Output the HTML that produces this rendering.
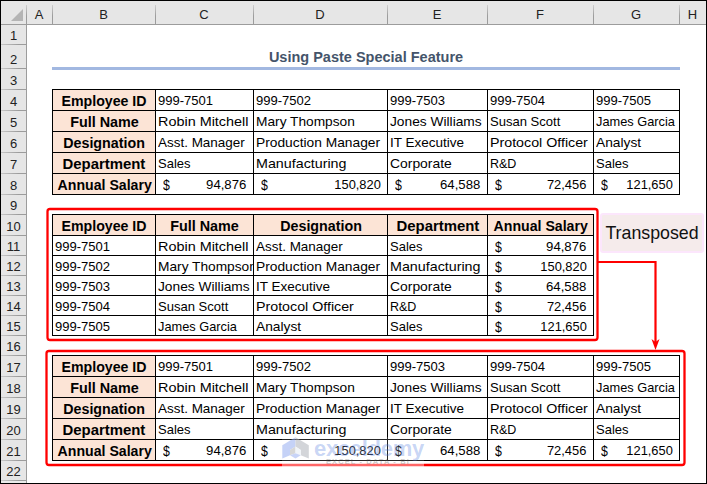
<!DOCTYPE html>
<html><head><meta charset="utf-8"><style>
html,body{margin:0;padding:0;background:#fff;}
body{width:707px;height:484px;position:relative;overflow:hidden;}
body>div,body>svg{position:absolute;}
</style></head><body>
<div style="left:1px;top:1px;width:705px;height:23px;background:#e6e6e6"></div>
<div style="left:1px;top:1px;width:25px;height:482px;background:#e6e6e6"></div>
<div style="left:1px;top:481px;width:25px;height:2px;background:#ebebeb"></div>
<div style="left:1px;top:24px;width:705px;height:1px;background:#9c9c9c"></div>
<div style="left:26px;top:5px;width:1px;height:20px;background:linear-gradient(#cdcdcd,#9c9c9c 55%)"></div>
<div style="left:26px;top:24px;width:1px;height:459px;background:#9c9c9c"></div>
<div style="left:52px;top:5px;width:1px;height:20px;background:linear-gradient(#cdcdcd,#9c9c9c 55%)"></div>
<div style="left:155px;top:5px;width:1px;height:20px;background:linear-gradient(#cdcdcd,#9c9c9c 55%)"></div>
<div style="left:253px;top:5px;width:1px;height:20px;background:linear-gradient(#cdcdcd,#9c9c9c 55%)"></div>
<div style="left:387px;top:5px;width:1px;height:20px;background:linear-gradient(#cdcdcd,#9c9c9c 55%)"></div>
<div style="left:487px;top:5px;width:1px;height:20px;background:linear-gradient(#cdcdcd,#9c9c9c 55%)"></div>
<div style="left:593px;top:5px;width:1px;height:20px;background:linear-gradient(#cdcdcd,#9c9c9c 55%)"></div>
<div style="left:679px;top:5px;width:1px;height:20px;background:linear-gradient(#cdcdcd,#9c9c9c 55%)"></div>
<div style="left:1px;top:44px;width:25px;height:1px;background:linear-gradient(to right,#c8c8c8,#9c9c9c 70%)"></div>
<div style="left:1px;top:68px;width:25px;height:1px;background:linear-gradient(to right,#c8c8c8,#9c9c9c 70%)"></div>
<div style="left:1px;top:89px;width:25px;height:1px;background:linear-gradient(to right,#c8c8c8,#9c9c9c 70%)"></div>
<div style="left:1px;top:110px;width:25px;height:1px;background:linear-gradient(to right,#c8c8c8,#9c9c9c 70%)"></div>
<div style="left:1px;top:131px;width:25px;height:1px;background:linear-gradient(to right,#c8c8c8,#9c9c9c 70%)"></div>
<div style="left:1px;top:152px;width:25px;height:1px;background:linear-gradient(to right,#c8c8c8,#9c9c9c 70%)"></div>
<div style="left:1px;top:173px;width:25px;height:1px;background:linear-gradient(to right,#c8c8c8,#9c9c9c 70%)"></div>
<div style="left:1px;top:194px;width:25px;height:1px;background:linear-gradient(to right,#c8c8c8,#9c9c9c 70%)"></div>
<div style="left:1px;top:214px;width:25px;height:1px;background:linear-gradient(to right,#c8c8c8,#9c9c9c 70%)"></div>
<div style="left:1px;top:235px;width:25px;height:1px;background:linear-gradient(to right,#c8c8c8,#9c9c9c 70%)"></div>
<div style="left:1px;top:255px;width:25px;height:1px;background:linear-gradient(to right,#c8c8c8,#9c9c9c 70%)"></div>
<div style="left:1px;top:275px;width:25px;height:1px;background:linear-gradient(to right,#c8c8c8,#9c9c9c 70%)"></div>
<div style="left:1px;top:295px;width:25px;height:1px;background:linear-gradient(to right,#c8c8c8,#9c9c9c 70%)"></div>
<div style="left:1px;top:315px;width:25px;height:1px;background:linear-gradient(to right,#c8c8c8,#9c9c9c 70%)"></div>
<div style="left:1px;top:335px;width:25px;height:1px;background:linear-gradient(to right,#c8c8c8,#9c9c9c 70%)"></div>
<div style="left:1px;top:355px;width:25px;height:1px;background:linear-gradient(to right,#c8c8c8,#9c9c9c 70%)"></div>
<div style="left:1px;top:376px;width:25px;height:1px;background:linear-gradient(to right,#c8c8c8,#9c9c9c 70%)"></div>
<div style="left:1px;top:397px;width:25px;height:1px;background:linear-gradient(to right,#c8c8c8,#9c9c9c 70%)"></div>
<div style="left:1px;top:418px;width:25px;height:1px;background:linear-gradient(to right,#c8c8c8,#9c9c9c 70%)"></div>
<div style="left:1px;top:439px;width:25px;height:1px;background:linear-gradient(to right,#c8c8c8,#9c9c9c 70%)"></div>
<div style="left:1px;top:460px;width:25px;height:1px;background:linear-gradient(to right,#c8c8c8,#9c9c9c 70%)"></div>
<div style="left:1px;top:480px;width:25px;height:1px;background:linear-gradient(to right,#c8c8c8,#9c9c9c 70%)"></div>
<svg style="left:11px;top:9px" width="13" height="13"><polygon points="12,0 12,12 0,12" fill="#b4b4b4"/></svg>
<div style="left:26px;top:7px;width:26px;text-align:center;font:13px 'Liberation Sans', sans-serif;color:#222;line-height:15px">A</div>
<div style="left:52px;top:7px;width:103px;text-align:center;font:13px 'Liberation Sans', sans-serif;color:#222;line-height:15px">B</div>
<div style="left:155px;top:7px;width:98px;text-align:center;font:13px 'Liberation Sans', sans-serif;color:#222;line-height:15px">C</div>
<div style="left:253px;top:7px;width:134px;text-align:center;font:13px 'Liberation Sans', sans-serif;color:#222;line-height:15px">D</div>
<div style="left:387px;top:7px;width:100px;text-align:center;font:13px 'Liberation Sans', sans-serif;color:#222;line-height:15px">E</div>
<div style="left:487px;top:7px;width:106px;text-align:center;font:13px 'Liberation Sans', sans-serif;color:#222;line-height:15px">F</div>
<div style="left:593px;top:7px;width:86px;text-align:center;font:13px 'Liberation Sans', sans-serif;color:#222;line-height:15px">G</div>
<div style="left:679px;top:7px;width:27px;text-align:center;font:13px 'Liberation Sans', sans-serif;color:#222;line-height:15px">H</div>
<div style="left:1px;top:28px;width:25px;text-align:center;font:13px 'Liberation Sans', sans-serif;color:#222;line-height:15px">1</div>
<div style="left:1px;top:52px;width:25px;text-align:center;font:13px 'Liberation Sans', sans-serif;color:#222;line-height:15px">2</div>
<div style="left:1px;top:73px;width:25px;text-align:center;font:13px 'Liberation Sans', sans-serif;color:#222;line-height:15px">3</div>
<div style="left:1px;top:94px;width:25px;text-align:center;font:13px 'Liberation Sans', sans-serif;color:#222;line-height:15px">4</div>
<div style="left:1px;top:115px;width:25px;text-align:center;font:13px 'Liberation Sans', sans-serif;color:#222;line-height:15px">5</div>
<div style="left:1px;top:136px;width:25px;text-align:center;font:13px 'Liberation Sans', sans-serif;color:#222;line-height:15px">6</div>
<div style="left:1px;top:157px;width:25px;text-align:center;font:13px 'Liberation Sans', sans-serif;color:#222;line-height:15px">7</div>
<div style="left:1px;top:178px;width:25px;text-align:center;font:13px 'Liberation Sans', sans-serif;color:#222;line-height:15px">8</div>
<div style="left:1px;top:198px;width:25px;text-align:center;font:13px 'Liberation Sans', sans-serif;color:#222;line-height:15px">9</div>
<div style="left:1px;top:219px;width:25px;text-align:center;font:13px 'Liberation Sans', sans-serif;color:#222;line-height:15px">10</div>
<div style="left:1px;top:239px;width:25px;text-align:center;font:13px 'Liberation Sans', sans-serif;color:#222;line-height:15px">11</div>
<div style="left:1px;top:259px;width:25px;text-align:center;font:13px 'Liberation Sans', sans-serif;color:#222;line-height:15px">12</div>
<div style="left:1px;top:279px;width:25px;text-align:center;font:13px 'Liberation Sans', sans-serif;color:#222;line-height:15px">13</div>
<div style="left:1px;top:299px;width:25px;text-align:center;font:13px 'Liberation Sans', sans-serif;color:#222;line-height:15px">14</div>
<div style="left:1px;top:319px;width:25px;text-align:center;font:13px 'Liberation Sans', sans-serif;color:#222;line-height:15px">15</div>
<div style="left:1px;top:339px;width:25px;text-align:center;font:13px 'Liberation Sans', sans-serif;color:#222;line-height:15px">16</div>
<div style="left:1px;top:360px;width:25px;text-align:center;font:13px 'Liberation Sans', sans-serif;color:#222;line-height:15px">17</div>
<div style="left:1px;top:381px;width:25px;text-align:center;font:13px 'Liberation Sans', sans-serif;color:#222;line-height:15px">18</div>
<div style="left:1px;top:402px;width:25px;text-align:center;font:13px 'Liberation Sans', sans-serif;color:#222;line-height:15px">19</div>
<div style="left:1px;top:423px;width:25px;text-align:center;font:13px 'Liberation Sans', sans-serif;color:#222;line-height:15px">20</div>
<div style="left:1px;top:444px;width:25px;text-align:center;font:13px 'Liberation Sans', sans-serif;color:#222;line-height:15px">21</div>
<div style="left:1px;top:464px;width:25px;text-align:center;font:13px 'Liberation Sans', sans-serif;color:#222;line-height:15px">22</div>
<div style="left:0;top:0;width:707px;height:1px;background:#000"></div>
<div style="left:0;top:483px;width:707px;height:1px;background:#000"></div>
<div style="left:0;top:0;width:1px;height:484px;background:#000"></div>
<div style="left:706px;top:0;width:1px;height:484px;background:#000"></div>
<div style="left:52px;top:50px;width:628px;text-align:center;font:bold 14.5px 'Liberation Sans', sans-serif;color:#44546a;line-height:15px">Using Paste Special Feature</div>
<div style="left:52px;top:67px;width:628px;height:3px;background:#a2b8e1"></div>
<div style="left:52px;top:89px;width:103px;height:21px;background:#fce4d6"></div>
<div style="left:52.5px;top:93px;width:103.5px;text-align:center;overflow:hidden;white-space:nowrap;font:bold 14px 'Liberation Sans', sans-serif;line-height:16px;color:#000"><span style="display:inline-block;transform:scaleX(1.0120);transform-origin:50% 0">Employee ID</span></div>
<div style="left:52px;top:110px;width:103px;height:21px;background:#fce4d6"></div>
<div style="left:52.5px;top:114px;width:103.5px;text-align:center;overflow:hidden;white-space:nowrap;font:bold 14px 'Liberation Sans', sans-serif;line-height:16px;color:#000"><span style="display:inline-block;transform:scaleX(1.0250);transform-origin:50% 0">Full Name</span></div>
<div style="left:52px;top:131px;width:103px;height:21px;background:#fce4d6"></div>
<div style="left:52.5px;top:135px;width:103.5px;text-align:center;overflow:hidden;white-space:nowrap;font:bold 14px 'Liberation Sans', sans-serif;line-height:16px;color:#000"><span style="display:inline-block;transform:scaleX(1.0190);transform-origin:50% 0">Designation</span></div>
<div style="left:52px;top:152px;width:103px;height:21px;background:#fce4d6"></div>
<div style="left:52.5px;top:156px;width:103.5px;text-align:center;overflow:hidden;white-space:nowrap;font:bold 14px 'Liberation Sans', sans-serif;line-height:16px;color:#000"><span style="display:inline-block;transform:scaleX(1.0650);transform-origin:50% 0">Department</span></div>
<div style="left:52px;top:173px;width:103px;height:21px;background:#fce4d6"></div>
<div style="left:52.5px;top:177px;width:103.5px;text-align:center;overflow:hidden;white-space:nowrap;font:bold 14px 'Liberation Sans', sans-serif;line-height:16px;color:#000"><span style="display:inline-block;transform:scaleX(1.0100);transform-origin:50% 0">Annual Salary</span></div>
<div style="left:156px;top:93px;width:97px;overflow:hidden;white-space:nowrap;font:13.5px 'Liberation Sans', sans-serif;line-height:16px;color:#000"><span style="display:inline-block;margin-left:1.5px"><span style="display:inline-block;transform:scaleX(0.9655);transform-origin:0 0">999-7501</span></span></div>
<div style="left:156px;top:114px;width:97px;overflow:hidden;white-space:nowrap;font:13.5px 'Liberation Sans', sans-serif;line-height:16px;color:#000"><span style="display:inline-block;margin-left:1.5px"><span style="display:inline-block;transform:scaleX(1.0671);transform-origin:0 0">Robin Mitchell</span></span></div>
<div style="left:156px;top:135px;width:97px;overflow:hidden;white-space:nowrap;font:13.5px 'Liberation Sans', sans-serif;line-height:16px;color:#000"><span style="display:inline-block;margin-left:1.5px"><span style="display:inline-block;transform:scaleX(0.9966);transform-origin:0 0">Asst. Manager</span></span></div>
<div style="left:156px;top:156px;width:97px;overflow:hidden;white-space:nowrap;font:13.5px 'Liberation Sans', sans-serif;line-height:16px;color:#000"><span style="display:inline-block;margin-left:1.5px"><span style="display:inline-block;transform:scaleX(0.9634);transform-origin:0 0">Sales</span></span></div>
<div style="left:163.2px;top:177px;font:14.5px 'Liberation Sans', sans-serif;line-height:16px;color:#000"><span style="display:inline-block;transform:scaleX(0.85);transform-origin:0 0">$</span></div>
<div style="left:155px;top:177px;width:91.6px;text-align:right;white-space:nowrap;font:13.5px 'Liberation Sans', sans-serif;line-height:16px;color:#000"><span style="display:inline-block;transform:scaleX(0.9738);transform-origin:100% 0">94,876</span></div>
<div style="left:254px;top:93px;width:133px;overflow:hidden;white-space:nowrap;font:13.5px 'Liberation Sans', sans-serif;line-height:16px;color:#000"><span style="display:inline-block;margin-left:1.5px"><span style="display:inline-block;transform:scaleX(0.9655);transform-origin:0 0">999-7502</span></span></div>
<div style="left:254px;top:114px;width:133px;overflow:hidden;white-space:nowrap;font:13.5px 'Liberation Sans', sans-serif;line-height:16px;color:#000"><span style="display:inline-block;margin-left:1.5px"><span style="display:inline-block;transform:scaleX(1.0163);transform-origin:0 0">Mary Thompson</span></span></div>
<div style="left:254px;top:135px;width:133px;overflow:hidden;white-space:nowrap;font:13.5px 'Liberation Sans', sans-serif;line-height:16px;color:#000"><span style="display:inline-block;margin-left:1.5px"><span style="display:inline-block;transform:scaleX(1.0204);transform-origin:0 0">Production Manager</span></span></div>
<div style="left:254px;top:156px;width:133px;overflow:hidden;white-space:nowrap;font:13.5px 'Liberation Sans', sans-serif;line-height:16px;color:#000"><span style="display:inline-block;margin-left:1.5px"><span style="display:inline-block;transform:scaleX(1.0578);transform-origin:0 0">Manufacturing</span></span></div>
<div style="left:261.2px;top:177px;font:14.5px 'Liberation Sans', sans-serif;line-height:16px;color:#000"><span style="display:inline-block;transform:scaleX(0.85);transform-origin:0 0">$</span></div>
<div style="left:253px;top:177px;width:127.6px;text-align:right;white-space:nowrap;font:13.5px 'Liberation Sans', sans-serif;line-height:16px;color:#000"><span style="display:inline-block;transform:scaleX(0.9520);transform-origin:100% 0">150,820</span></div>
<div style="left:388px;top:93px;width:99px;overflow:hidden;white-space:nowrap;font:13.5px 'Liberation Sans', sans-serif;line-height:16px;color:#000"><span style="display:inline-block;margin-left:1.5px"><span style="display:inline-block;transform:scaleX(0.9655);transform-origin:0 0">999-7503</span></span></div>
<div style="left:388px;top:114px;width:99px;overflow:hidden;white-space:nowrap;font:13.5px 'Liberation Sans', sans-serif;line-height:16px;color:#000"><span style="display:inline-block;margin-left:1.5px"><span style="display:inline-block;transform:scaleX(1.0184);transform-origin:0 0">Jones Williams</span></span></div>
<div style="left:388px;top:135px;width:99px;overflow:hidden;white-space:nowrap;font:13.5px 'Liberation Sans', sans-serif;line-height:16px;color:#000"><span style="display:inline-block;margin-left:1.5px"><span style="display:inline-block;transform:scaleX(1.0007);transform-origin:0 0">IT Executive</span></span></div>
<div style="left:388px;top:156px;width:99px;overflow:hidden;white-space:nowrap;font:13.5px 'Liberation Sans', sans-serif;line-height:16px;color:#000"><span style="display:inline-block;margin-left:1.5px"><span style="display:inline-block;transform:scaleX(1.0287);transform-origin:0 0">Corporate</span></span></div>
<div style="left:395.2px;top:177px;font:14.5px 'Liberation Sans', sans-serif;line-height:16px;color:#000"><span style="display:inline-block;transform:scaleX(0.85);transform-origin:0 0">$</span></div>
<div style="left:387px;top:177px;width:93.6px;text-align:right;white-space:nowrap;font:13.5px 'Liberation Sans', sans-serif;line-height:16px;color:#000"><span style="display:inline-block;transform:scaleX(0.9759);transform-origin:100% 0">64,588</span></div>
<div style="left:488px;top:93px;width:105px;overflow:hidden;white-space:nowrap;font:13.5px 'Liberation Sans', sans-serif;line-height:16px;color:#000"><span style="display:inline-block;margin-left:1.5px"><span style="display:inline-block;transform:scaleX(0.9655);transform-origin:0 0">999-7504</span></span></div>
<div style="left:488px;top:114px;width:105px;overflow:hidden;white-space:nowrap;font:13.5px 'Liberation Sans', sans-serif;line-height:16px;color:#000"><span style="display:inline-block;margin-left:1.5px"><span style="display:inline-block;transform:scaleX(0.9665);transform-origin:0 0">Susan Scott</span></span></div>
<div style="left:488px;top:135px;width:105px;overflow:hidden;white-space:nowrap;font:13.5px 'Liberation Sans', sans-serif;line-height:16px;color:#000"><span style="display:inline-block;margin-left:1.5px"><span style="display:inline-block;transform:scaleX(1.0547);transform-origin:0 0">Protocol Officer</span></span></div>
<div style="left:488px;top:156px;width:105px;overflow:hidden;white-space:nowrap;font:13.5px 'Liberation Sans', sans-serif;line-height:16px;color:#000"><span style="display:inline-block;margin-left:1.5px"><span style="display:inline-block;transform:scaleX(0.9261);transform-origin:0 0">R&amp;D</span></span></div>
<div style="left:495.2px;top:177px;font:14.5px 'Liberation Sans', sans-serif;line-height:16px;color:#000"><span style="display:inline-block;transform:scaleX(0.85);transform-origin:0 0">$</span></div>
<div style="left:487px;top:177px;width:99.6px;text-align:right;white-space:nowrap;font:13.5px 'Liberation Sans', sans-serif;line-height:16px;color:#000"><span style="display:inline-block;transform:scaleX(0.9541);transform-origin:100% 0">72,456</span></div>
<div style="left:594px;top:93px;width:85px;overflow:hidden;white-space:nowrap;font:13.5px 'Liberation Sans', sans-serif;line-height:16px;color:#000"><span style="display:inline-block;margin-left:1.5px"><span style="display:inline-block;transform:scaleX(0.9655);transform-origin:0 0">999-7505</span></span></div>
<div style="left:594px;top:114px;width:85px;overflow:hidden;white-space:nowrap;font:13.5px 'Liberation Sans', sans-serif;line-height:16px;color:#000"><span style="display:inline-block;margin-left:1.5px"><span style="display:inline-block;transform:scaleX(0.9468);transform-origin:0 0">James Garcia</span></span></div>
<div style="left:594px;top:135px;width:85px;overflow:hidden;white-space:nowrap;font:13.5px 'Liberation Sans', sans-serif;line-height:16px;color:#000"><span style="display:inline-block;margin-left:1.5px"><span style="display:inline-block;transform:scaleX(1.0194);transform-origin:0 0">Analyst</span></span></div>
<div style="left:594px;top:156px;width:85px;overflow:hidden;white-space:nowrap;font:13.5px 'Liberation Sans', sans-serif;line-height:16px;color:#000"><span style="display:inline-block;margin-left:1.5px"><span style="display:inline-block;transform:scaleX(0.9634);transform-origin:0 0">Sales</span></span></div>
<div style="left:601.2px;top:177px;font:14.5px 'Liberation Sans', sans-serif;line-height:16px;color:#000"><span style="display:inline-block;transform:scaleX(0.85);transform-origin:0 0">$</span></div>
<div style="left:593px;top:177px;width:79.6px;text-align:right;white-space:nowrap;font:13.5px 'Liberation Sans', sans-serif;line-height:16px;color:#000"><span style="display:inline-block;transform:scaleX(0.9520);transform-origin:100% 0">121,650</span></div>
<div style="left:52px;top:89px;width:1px;height:106px;background:#000"></div>
<div style="left:155px;top:89px;width:1px;height:106px;background:#000"></div>
<div style="left:253px;top:89px;width:1px;height:106px;background:#000"></div>
<div style="left:387px;top:89px;width:1px;height:106px;background:#000"></div>
<div style="left:487px;top:89px;width:1px;height:106px;background:#000"></div>
<div style="left:593px;top:89px;width:1px;height:106px;background:#000"></div>
<div style="left:679px;top:89px;width:1px;height:106px;background:#000"></div>
<div style="left:52px;top:89px;width:628px;height:1px;background:#000"></div>
<div style="left:52px;top:110px;width:628px;height:1px;background:#000"></div>
<div style="left:52px;top:131px;width:628px;height:1px;background:#000"></div>
<div style="left:52px;top:152px;width:628px;height:1px;background:#000"></div>
<div style="left:52px;top:173px;width:628px;height:1px;background:#000"></div>
<div style="left:52px;top:194px;width:628px;height:1px;background:#000"></div>
<div style="left:52px;top:355px;width:103px;height:21px;background:#fce4d6"></div>
<div style="left:52.5px;top:359px;width:103.5px;text-align:center;overflow:hidden;white-space:nowrap;font:bold 14px 'Liberation Sans', sans-serif;line-height:16px;color:#000"><span style="display:inline-block;transform:scaleX(1.0120);transform-origin:50% 0">Employee ID</span></div>
<div style="left:52px;top:376px;width:103px;height:21px;background:#fce4d6"></div>
<div style="left:52.5px;top:380px;width:103.5px;text-align:center;overflow:hidden;white-space:nowrap;font:bold 14px 'Liberation Sans', sans-serif;line-height:16px;color:#000"><span style="display:inline-block;transform:scaleX(1.0250);transform-origin:50% 0">Full Name</span></div>
<div style="left:52px;top:397px;width:103px;height:21px;background:#fce4d6"></div>
<div style="left:52.5px;top:401px;width:103.5px;text-align:center;overflow:hidden;white-space:nowrap;font:bold 14px 'Liberation Sans', sans-serif;line-height:16px;color:#000"><span style="display:inline-block;transform:scaleX(1.0190);transform-origin:50% 0">Designation</span></div>
<div style="left:52px;top:418px;width:103px;height:21px;background:#fce4d6"></div>
<div style="left:52.5px;top:422px;width:103.5px;text-align:center;overflow:hidden;white-space:nowrap;font:bold 14px 'Liberation Sans', sans-serif;line-height:16px;color:#000"><span style="display:inline-block;transform:scaleX(1.0650);transform-origin:50% 0">Department</span></div>
<div style="left:52px;top:439px;width:103px;height:21px;background:#fce4d6"></div>
<div style="left:52.5px;top:443px;width:103.5px;text-align:center;overflow:hidden;white-space:nowrap;font:bold 14px 'Liberation Sans', sans-serif;line-height:16px;color:#000"><span style="display:inline-block;transform:scaleX(1.0100);transform-origin:50% 0">Annual Salary</span></div>
<div style="left:156px;top:359px;width:97px;overflow:hidden;white-space:nowrap;font:13.5px 'Liberation Sans', sans-serif;line-height:16px;color:#000"><span style="display:inline-block;margin-left:1.5px"><span style="display:inline-block;transform:scaleX(0.9655);transform-origin:0 0">999-7501</span></span></div>
<div style="left:156px;top:380px;width:97px;overflow:hidden;white-space:nowrap;font:13.5px 'Liberation Sans', sans-serif;line-height:16px;color:#000"><span style="display:inline-block;margin-left:1.5px"><span style="display:inline-block;transform:scaleX(1.0671);transform-origin:0 0">Robin Mitchell</span></span></div>
<div style="left:156px;top:401px;width:97px;overflow:hidden;white-space:nowrap;font:13.5px 'Liberation Sans', sans-serif;line-height:16px;color:#000"><span style="display:inline-block;margin-left:1.5px"><span style="display:inline-block;transform:scaleX(0.9966);transform-origin:0 0">Asst. Manager</span></span></div>
<div style="left:156px;top:422px;width:97px;overflow:hidden;white-space:nowrap;font:13.5px 'Liberation Sans', sans-serif;line-height:16px;color:#000"><span style="display:inline-block;margin-left:1.5px"><span style="display:inline-block;transform:scaleX(0.9634);transform-origin:0 0">Sales</span></span></div>
<div style="left:163.2px;top:443px;font:14.5px 'Liberation Sans', sans-serif;line-height:16px;color:#000"><span style="display:inline-block;transform:scaleX(0.85);transform-origin:0 0">$</span></div>
<div style="left:155px;top:443px;width:91.6px;text-align:right;white-space:nowrap;font:13.5px 'Liberation Sans', sans-serif;line-height:16px;color:#000"><span style="display:inline-block;transform:scaleX(0.9738);transform-origin:100% 0">94,876</span></div>
<div style="left:254px;top:359px;width:133px;overflow:hidden;white-space:nowrap;font:13.5px 'Liberation Sans', sans-serif;line-height:16px;color:#000"><span style="display:inline-block;margin-left:1.5px"><span style="display:inline-block;transform:scaleX(0.9655);transform-origin:0 0">999-7502</span></span></div>
<div style="left:254px;top:380px;width:133px;overflow:hidden;white-space:nowrap;font:13.5px 'Liberation Sans', sans-serif;line-height:16px;color:#000"><span style="display:inline-block;margin-left:1.5px"><span style="display:inline-block;transform:scaleX(1.0163);transform-origin:0 0">Mary Thompson</span></span></div>
<div style="left:254px;top:401px;width:133px;overflow:hidden;white-space:nowrap;font:13.5px 'Liberation Sans', sans-serif;line-height:16px;color:#000"><span style="display:inline-block;margin-left:1.5px"><span style="display:inline-block;transform:scaleX(1.0204);transform-origin:0 0">Production Manager</span></span></div>
<div style="left:254px;top:422px;width:133px;overflow:hidden;white-space:nowrap;font:13.5px 'Liberation Sans', sans-serif;line-height:16px;color:#000"><span style="display:inline-block;margin-left:1.5px"><span style="display:inline-block;transform:scaleX(1.0578);transform-origin:0 0">Manufacturing</span></span></div>
<div style="left:261.2px;top:443px;font:14.5px 'Liberation Sans', sans-serif;line-height:16px;color:#000"><span style="display:inline-block;transform:scaleX(0.85);transform-origin:0 0">$</span></div>
<div style="left:253px;top:443px;width:127.6px;text-align:right;white-space:nowrap;font:13.5px 'Liberation Sans', sans-serif;line-height:16px;color:#000"><span style="display:inline-block;transform:scaleX(0.9520);transform-origin:100% 0">150,820</span></div>
<div style="left:388px;top:359px;width:99px;overflow:hidden;white-space:nowrap;font:13.5px 'Liberation Sans', sans-serif;line-height:16px;color:#000"><span style="display:inline-block;margin-left:1.5px"><span style="display:inline-block;transform:scaleX(0.9655);transform-origin:0 0">999-7503</span></span></div>
<div style="left:388px;top:380px;width:99px;overflow:hidden;white-space:nowrap;font:13.5px 'Liberation Sans', sans-serif;line-height:16px;color:#000"><span style="display:inline-block;margin-left:1.5px"><span style="display:inline-block;transform:scaleX(1.0184);transform-origin:0 0">Jones Williams</span></span></div>
<div style="left:388px;top:401px;width:99px;overflow:hidden;white-space:nowrap;font:13.5px 'Liberation Sans', sans-serif;line-height:16px;color:#000"><span style="display:inline-block;margin-left:1.5px"><span style="display:inline-block;transform:scaleX(1.0007);transform-origin:0 0">IT Executive</span></span></div>
<div style="left:388px;top:422px;width:99px;overflow:hidden;white-space:nowrap;font:13.5px 'Liberation Sans', sans-serif;line-height:16px;color:#000"><span style="display:inline-block;margin-left:1.5px"><span style="display:inline-block;transform:scaleX(1.0287);transform-origin:0 0">Corporate</span></span></div>
<div style="left:395.2px;top:443px;font:14.5px 'Liberation Sans', sans-serif;line-height:16px;color:#000"><span style="display:inline-block;transform:scaleX(0.85);transform-origin:0 0">$</span></div>
<div style="left:387px;top:443px;width:93.6px;text-align:right;white-space:nowrap;font:13.5px 'Liberation Sans', sans-serif;line-height:16px;color:#000"><span style="display:inline-block;transform:scaleX(0.9759);transform-origin:100% 0">64,588</span></div>
<div style="left:488px;top:359px;width:105px;overflow:hidden;white-space:nowrap;font:13.5px 'Liberation Sans', sans-serif;line-height:16px;color:#000"><span style="display:inline-block;margin-left:1.5px"><span style="display:inline-block;transform:scaleX(0.9655);transform-origin:0 0">999-7504</span></span></div>
<div style="left:488px;top:380px;width:105px;overflow:hidden;white-space:nowrap;font:13.5px 'Liberation Sans', sans-serif;line-height:16px;color:#000"><span style="display:inline-block;margin-left:1.5px"><span style="display:inline-block;transform:scaleX(0.9665);transform-origin:0 0">Susan Scott</span></span></div>
<div style="left:488px;top:401px;width:105px;overflow:hidden;white-space:nowrap;font:13.5px 'Liberation Sans', sans-serif;line-height:16px;color:#000"><span style="display:inline-block;margin-left:1.5px"><span style="display:inline-block;transform:scaleX(1.0547);transform-origin:0 0">Protocol Officer</span></span></div>
<div style="left:488px;top:422px;width:105px;overflow:hidden;white-space:nowrap;font:13.5px 'Liberation Sans', sans-serif;line-height:16px;color:#000"><span style="display:inline-block;margin-left:1.5px"><span style="display:inline-block;transform:scaleX(0.9261);transform-origin:0 0">R&amp;D</span></span></div>
<div style="left:495.2px;top:443px;font:14.5px 'Liberation Sans', sans-serif;line-height:16px;color:#000"><span style="display:inline-block;transform:scaleX(0.85);transform-origin:0 0">$</span></div>
<div style="left:487px;top:443px;width:99.6px;text-align:right;white-space:nowrap;font:13.5px 'Liberation Sans', sans-serif;line-height:16px;color:#000"><span style="display:inline-block;transform:scaleX(0.9541);transform-origin:100% 0">72,456</span></div>
<div style="left:594px;top:359px;width:85px;overflow:hidden;white-space:nowrap;font:13.5px 'Liberation Sans', sans-serif;line-height:16px;color:#000"><span style="display:inline-block;margin-left:1.5px"><span style="display:inline-block;transform:scaleX(0.9655);transform-origin:0 0">999-7505</span></span></div>
<div style="left:594px;top:380px;width:85px;overflow:hidden;white-space:nowrap;font:13.5px 'Liberation Sans', sans-serif;line-height:16px;color:#000"><span style="display:inline-block;margin-left:1.5px"><span style="display:inline-block;transform:scaleX(0.9468);transform-origin:0 0">James Garcia</span></span></div>
<div style="left:594px;top:401px;width:85px;overflow:hidden;white-space:nowrap;font:13.5px 'Liberation Sans', sans-serif;line-height:16px;color:#000"><span style="display:inline-block;margin-left:1.5px"><span style="display:inline-block;transform:scaleX(1.0194);transform-origin:0 0">Analyst</span></span></div>
<div style="left:594px;top:422px;width:85px;overflow:hidden;white-space:nowrap;font:13.5px 'Liberation Sans', sans-serif;line-height:16px;color:#000"><span style="display:inline-block;margin-left:1.5px"><span style="display:inline-block;transform:scaleX(0.9634);transform-origin:0 0">Sales</span></span></div>
<div style="left:601.2px;top:443px;font:14.5px 'Liberation Sans', sans-serif;line-height:16px;color:#000"><span style="display:inline-block;transform:scaleX(0.85);transform-origin:0 0">$</span></div>
<div style="left:593px;top:443px;width:79.6px;text-align:right;white-space:nowrap;font:13.5px 'Liberation Sans', sans-serif;line-height:16px;color:#000"><span style="display:inline-block;transform:scaleX(0.9520);transform-origin:100% 0">121,650</span></div>
<div style="left:52px;top:355px;width:1px;height:106px;background:#000"></div>
<div style="left:155px;top:355px;width:1px;height:106px;background:#000"></div>
<div style="left:253px;top:355px;width:1px;height:106px;background:#000"></div>
<div style="left:387px;top:355px;width:1px;height:106px;background:#000"></div>
<div style="left:487px;top:355px;width:1px;height:106px;background:#000"></div>
<div style="left:593px;top:355px;width:1px;height:106px;background:#000"></div>
<div style="left:679px;top:355px;width:1px;height:106px;background:#000"></div>
<div style="left:52px;top:355px;width:628px;height:1px;background:#000"></div>
<div style="left:52px;top:376px;width:628px;height:1px;background:#000"></div>
<div style="left:52px;top:397px;width:628px;height:1px;background:#000"></div>
<div style="left:52px;top:418px;width:628px;height:1px;background:#000"></div>
<div style="left:52px;top:439px;width:628px;height:1px;background:#000"></div>
<div style="left:52px;top:460px;width:628px;height:1px;background:#000"></div>
<div style="left:52px;top:214px;width:103px;height:21px;background:#fce4d6"></div>
<div style="left:52.5px;top:218px;width:103.5px;text-align:center;overflow:hidden;white-space:nowrap;font:bold 14px 'Liberation Sans', sans-serif;line-height:16px;color:#000"><span style="display:inline-block;transform:scaleX(1.0120);transform-origin:50% 0">Employee ID</span></div>
<div style="left:155px;top:214px;width:98px;height:21px;background:#fce4d6"></div>
<div style="left:155.5px;top:218px;width:98.5px;text-align:center;overflow:hidden;white-space:nowrap;font:bold 14px 'Liberation Sans', sans-serif;line-height:16px;color:#000"><span style="display:inline-block;transform:scaleX(1.0250);transform-origin:50% 0">Full Name</span></div>
<div style="left:253px;top:214px;width:134px;height:21px;background:#fce4d6"></div>
<div style="left:253.5px;top:218px;width:134.5px;text-align:center;overflow:hidden;white-space:nowrap;font:bold 14px 'Liberation Sans', sans-serif;line-height:16px;color:#000"><span style="display:inline-block;transform:scaleX(1.0190);transform-origin:50% 0">Designation</span></div>
<div style="left:387px;top:214px;width:100px;height:21px;background:#fce4d6"></div>
<div style="left:387.5px;top:218px;width:100.5px;text-align:center;overflow:hidden;white-space:nowrap;font:bold 14px 'Liberation Sans', sans-serif;line-height:16px;color:#000"><span style="display:inline-block;transform:scaleX(1.0650);transform-origin:50% 0">Department</span></div>
<div style="left:487px;top:214px;width:106px;height:21px;background:#fce4d6"></div>
<div style="left:487.5px;top:218px;width:106.5px;text-align:center;overflow:hidden;white-space:nowrap;font:bold 14px 'Liberation Sans', sans-serif;line-height:16px;color:#000"><span style="display:inline-block;transform:scaleX(1.0100);transform-origin:50% 0">Annual Salary</span></div>
<div style="left:53px;top:239px;width:102px;overflow:hidden;white-space:nowrap;font:13.5px 'Liberation Sans', sans-serif;line-height:16px;color:#000"><span style="display:inline-block;margin-left:1.5px"><span style="display:inline-block;transform:scaleX(0.9655);transform-origin:0 0">999-7501</span></span></div>
<div style="left:156px;top:239px;width:97px;overflow:hidden;white-space:nowrap;font:13.5px 'Liberation Sans', sans-serif;line-height:16px;color:#000"><span style="display:inline-block;margin-left:1.5px"><span style="display:inline-block;transform:scaleX(1.0671);transform-origin:0 0">Robin Mitchell</span></span></div>
<div style="left:254px;top:239px;width:133px;overflow:hidden;white-space:nowrap;font:13.5px 'Liberation Sans', sans-serif;line-height:16px;color:#000"><span style="display:inline-block;margin-left:1.5px"><span style="display:inline-block;transform:scaleX(0.9966);transform-origin:0 0">Asst. Manager</span></span></div>
<div style="left:388px;top:239px;width:99px;overflow:hidden;white-space:nowrap;font:13.5px 'Liberation Sans', sans-serif;line-height:16px;color:#000"><span style="display:inline-block;margin-left:1.5px"><span style="display:inline-block;transform:scaleX(0.9634);transform-origin:0 0">Sales</span></span></div>
<div style="left:495.2px;top:239px;font:14.5px 'Liberation Sans', sans-serif;line-height:16px;color:#000"><span style="display:inline-block;transform:scaleX(0.85);transform-origin:0 0">$</span></div>
<div style="left:487px;top:239px;width:99.6px;text-align:right;white-space:nowrap;font:13.5px 'Liberation Sans', sans-serif;line-height:16px;color:#000"><span style="display:inline-block;transform:scaleX(0.9738);transform-origin:100% 0">94,876</span></div>
<div style="left:53px;top:259px;width:102px;overflow:hidden;white-space:nowrap;font:13.5px 'Liberation Sans', sans-serif;line-height:16px;color:#000"><span style="display:inline-block;margin-left:1.5px"><span style="display:inline-block;transform:scaleX(0.9655);transform-origin:0 0">999-7502</span></span></div>
<div style="left:156px;top:259px;width:97px;overflow:hidden;white-space:nowrap;font:13.5px 'Liberation Sans', sans-serif;line-height:16px;color:#000"><span style="display:inline-block;margin-left:1.5px"><span style="display:inline-block;transform:scaleX(1.0163);transform-origin:0 0">Mary Thompson</span></span></div>
<div style="left:254px;top:259px;width:133px;overflow:hidden;white-space:nowrap;font:13.5px 'Liberation Sans', sans-serif;line-height:16px;color:#000"><span style="display:inline-block;margin-left:1.5px"><span style="display:inline-block;transform:scaleX(1.0204);transform-origin:0 0">Production Manager</span></span></div>
<div style="left:388px;top:259px;width:99px;overflow:hidden;white-space:nowrap;font:13.5px 'Liberation Sans', sans-serif;line-height:16px;color:#000"><span style="display:inline-block;margin-left:1.5px"><span style="display:inline-block;transform:scaleX(1.0578);transform-origin:0 0">Manufacturing</span></span></div>
<div style="left:495.2px;top:259px;font:14.5px 'Liberation Sans', sans-serif;line-height:16px;color:#000"><span style="display:inline-block;transform:scaleX(0.85);transform-origin:0 0">$</span></div>
<div style="left:487px;top:259px;width:99.6px;text-align:right;white-space:nowrap;font:13.5px 'Liberation Sans', sans-serif;line-height:16px;color:#000"><span style="display:inline-block;transform:scaleX(0.9520);transform-origin:100% 0">150,820</span></div>
<div style="left:53px;top:279px;width:102px;overflow:hidden;white-space:nowrap;font:13.5px 'Liberation Sans', sans-serif;line-height:16px;color:#000"><span style="display:inline-block;margin-left:1.5px"><span style="display:inline-block;transform:scaleX(0.9655);transform-origin:0 0">999-7503</span></span></div>
<div style="left:156px;top:279px;width:97px;overflow:hidden;white-space:nowrap;font:13.5px 'Liberation Sans', sans-serif;line-height:16px;color:#000"><span style="display:inline-block;margin-left:1.5px"><span style="display:inline-block;transform:scaleX(1.0184);transform-origin:0 0">Jones Williams</span></span></div>
<div style="left:254px;top:279px;width:133px;overflow:hidden;white-space:nowrap;font:13.5px 'Liberation Sans', sans-serif;line-height:16px;color:#000"><span style="display:inline-block;margin-left:1.5px"><span style="display:inline-block;transform:scaleX(1.0007);transform-origin:0 0">IT Executive</span></span></div>
<div style="left:388px;top:279px;width:99px;overflow:hidden;white-space:nowrap;font:13.5px 'Liberation Sans', sans-serif;line-height:16px;color:#000"><span style="display:inline-block;margin-left:1.5px"><span style="display:inline-block;transform:scaleX(1.0287);transform-origin:0 0">Corporate</span></span></div>
<div style="left:495.2px;top:279px;font:14.5px 'Liberation Sans', sans-serif;line-height:16px;color:#000"><span style="display:inline-block;transform:scaleX(0.85);transform-origin:0 0">$</span></div>
<div style="left:487px;top:279px;width:99.6px;text-align:right;white-space:nowrap;font:13.5px 'Liberation Sans', sans-serif;line-height:16px;color:#000"><span style="display:inline-block;transform:scaleX(0.9759);transform-origin:100% 0">64,588</span></div>
<div style="left:53px;top:299px;width:102px;overflow:hidden;white-space:nowrap;font:13.5px 'Liberation Sans', sans-serif;line-height:16px;color:#000"><span style="display:inline-block;margin-left:1.5px"><span style="display:inline-block;transform:scaleX(0.9655);transform-origin:0 0">999-7504</span></span></div>
<div style="left:156px;top:299px;width:97px;overflow:hidden;white-space:nowrap;font:13.5px 'Liberation Sans', sans-serif;line-height:16px;color:#000"><span style="display:inline-block;margin-left:1.5px"><span style="display:inline-block;transform:scaleX(0.9665);transform-origin:0 0">Susan Scott</span></span></div>
<div style="left:254px;top:299px;width:133px;overflow:hidden;white-space:nowrap;font:13.5px 'Liberation Sans', sans-serif;line-height:16px;color:#000"><span style="display:inline-block;margin-left:1.5px"><span style="display:inline-block;transform:scaleX(1.0547);transform-origin:0 0">Protocol Officer</span></span></div>
<div style="left:388px;top:299px;width:99px;overflow:hidden;white-space:nowrap;font:13.5px 'Liberation Sans', sans-serif;line-height:16px;color:#000"><span style="display:inline-block;margin-left:1.5px"><span style="display:inline-block;transform:scaleX(0.9261);transform-origin:0 0">R&amp;D</span></span></div>
<div style="left:495.2px;top:299px;font:14.5px 'Liberation Sans', sans-serif;line-height:16px;color:#000"><span style="display:inline-block;transform:scaleX(0.85);transform-origin:0 0">$</span></div>
<div style="left:487px;top:299px;width:99.6px;text-align:right;white-space:nowrap;font:13.5px 'Liberation Sans', sans-serif;line-height:16px;color:#000"><span style="display:inline-block;transform:scaleX(0.9541);transform-origin:100% 0">72,456</span></div>
<div style="left:53px;top:319px;width:102px;overflow:hidden;white-space:nowrap;font:13.5px 'Liberation Sans', sans-serif;line-height:16px;color:#000"><span style="display:inline-block;margin-left:1.5px"><span style="display:inline-block;transform:scaleX(0.9655);transform-origin:0 0">999-7505</span></span></div>
<div style="left:156px;top:319px;width:97px;overflow:hidden;white-space:nowrap;font:13.5px 'Liberation Sans', sans-serif;line-height:16px;color:#000"><span style="display:inline-block;margin-left:1.5px"><span style="display:inline-block;transform:scaleX(0.9468);transform-origin:0 0">James Garcia</span></span></div>
<div style="left:254px;top:319px;width:133px;overflow:hidden;white-space:nowrap;font:13.5px 'Liberation Sans', sans-serif;line-height:16px;color:#000"><span style="display:inline-block;margin-left:1.5px"><span style="display:inline-block;transform:scaleX(1.0194);transform-origin:0 0">Analyst</span></span></div>
<div style="left:388px;top:319px;width:99px;overflow:hidden;white-space:nowrap;font:13.5px 'Liberation Sans', sans-serif;line-height:16px;color:#000"><span style="display:inline-block;margin-left:1.5px"><span style="display:inline-block;transform:scaleX(0.9634);transform-origin:0 0">Sales</span></span></div>
<div style="left:495.2px;top:319px;font:14.5px 'Liberation Sans', sans-serif;line-height:16px;color:#000"><span style="display:inline-block;transform:scaleX(0.85);transform-origin:0 0">$</span></div>
<div style="left:487px;top:319px;width:99.6px;text-align:right;white-space:nowrap;font:13.5px 'Liberation Sans', sans-serif;line-height:16px;color:#000"><span style="display:inline-block;transform:scaleX(0.9520);transform-origin:100% 0">121,650</span></div>
<div style="left:52px;top:214px;width:1px;height:122px;background:#000"></div>
<div style="left:155px;top:214px;width:1px;height:122px;background:#000"></div>
<div style="left:253px;top:214px;width:1px;height:122px;background:#000"></div>
<div style="left:387px;top:214px;width:1px;height:122px;background:#000"></div>
<div style="left:487px;top:214px;width:1px;height:122px;background:#000"></div>
<div style="left:593px;top:214px;width:1px;height:122px;background:#000"></div>
<div style="left:52px;top:214px;width:542px;height:1px;background:#000"></div>
<div style="left:52px;top:235px;width:542px;height:1px;background:#000"></div>
<div style="left:52px;top:255px;width:542px;height:1px;background:#000"></div>
<div style="left:52px;top:275px;width:542px;height:1px;background:#000"></div>
<div style="left:52px;top:295px;width:542px;height:1px;background:#000"></div>
<div style="left:52px;top:315px;width:542px;height:1px;background:#000"></div>
<div style="left:52px;top:335px;width:542px;height:1px;background:#000"></div>
<svg style="left:0;top:0" width="707" height="484"><rect x="47.5" y="209" width="550" height="131" rx="2.5" ry="2.5" fill="none" stroke="#ff0000" stroke-width="2.3"/><rect x="46.5" y="351" width="638" height="114" rx="2.5" ry="2.5" fill="none" stroke="#ff0000" stroke-width="2.3"/><polyline points="597.5,262 655.5,262 655.5,343" fill="none" stroke="#ff0000" stroke-width="2.2"/><path d="M655.5,350 L651.5,339 L655.5,342 L659.5,339 Z" fill="#ff0000"/><rect x="601" y="214" width="102" height="38" rx="2" ry="2" fill="#f5ebeb" stroke="#fce6fc" stroke-width="2"/></svg>
<div style="left:600px;top:224px;width:104px;text-align:center;font:17.8px 'Liberation Sans', sans-serif;line-height:18px;color:#111">Transposed</div>
<svg style="left:0;top:0" width="707" height="484"><rect x="282" y="437" width="142" height="31" fill="#ffffff" fill-opacity="0.15"/><rect x="282" y="461" width="142" height="6" fill="#ffffff" fill-opacity="0.3"/><g opacity="0.5"><polygon points="295.5,437.3 295.5,446.6 290,449.9 290,455.2 282.3,458.5 282.3,445.3" fill="#8da7f1"/><polygon points="295.5,437.3 308.8,445.3 308.8,458.5 300.8,455.2 300.8,449.9 295.5,446.6" fill="#a8acb4"/><polygon points="290,449.9 295.5,446.6 295.5,453.2 290,455.2" fill="#b0b0b0"/><polygon points="295.5,446.6 300.8,449.9 300.8,455.2 295.5,453.2" fill="#e4ecf4"/><polygon points="290,455.2 295.5,453.2 300.8,455.2 295.5,458.5" fill="#93aaf0"/></g></svg>
<div style="left:314px;top:436px;font:bold 22px 'Liberation Sans', sans-serif;line-height:25px;color:rgba(68,114,220,0.3);letter-spacing:-0.3px">exceldemy</div>
<div style="left:326px;top:457px;font:bold 7.5px 'Liberation Sans', sans-serif;line-height:9px;color:rgba(80,80,80,0.3);letter-spacing:1.1px">EXCEL - DATA - BI</div>
</body></html>
